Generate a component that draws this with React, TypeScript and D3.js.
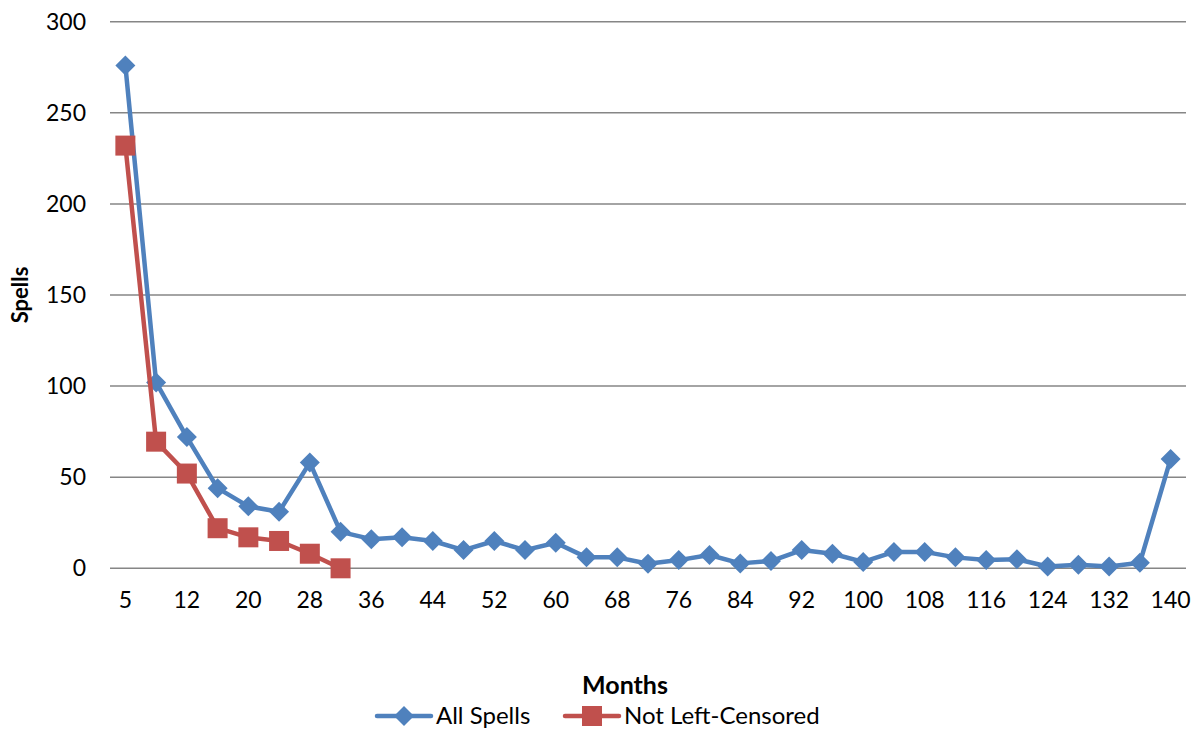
import React from "react";
import * as d3 from "d3";

const months: number[] = [5, 8, 12, 16, 20, 24, 28, 32, 36, 40, 44, 48, 52, 56, 60, 64, 68, 72, 76, 80, 84, 88, 92, 96, 100, 104, 108, 112, 116, 120, 124, 128, 132, 136, 140];
const allSpells: number[] = [276, 102, 72, 44, 34, 31, 58, 20, 16, 17, 15, 10, 15, 10, 14, 6, 6, 2.5, 4.5, 7.3, 2.7, 4, 10, 8, 3.5, 9, 9, 6, 4.5, 5, 1, 2, 1, 3, 60];
const notLeftCensored: (number | null)[] = [232, 69.5, 52, 22, 17, 15, 8, 0];
const yTicks: number[] = [0, 50, 100, 150, 200, 250, 300];

const BLUE = "#4F81BD";
const RED = "#C0504D";
const FONT = "Lato, 'Open Sans', sans-serif";

export default function App() {
  const W = 1201, H = 730;
  const left = 110, right = 1186, top = 21.7, bottom = 568.3;
  const x = d3.scalePoint<number>().domain(months).range([left, right]).padding(0.5);
  const y = d3.scaleLinear().domain([0, 300]).range([bottom, top]);

  const line = d3.line<[number, number]>().x(d => d[0]).y(d => d[1]);
  const bluePts: [number, number][] = allSpells.map((v, i) => [x(months[i])!, y(v)]);
  const redPts: [number, number][] = notLeftCensored
    .map((v, i) => (v == null ? null : ([x(months[i])!, y(v)] as [number, number])))
    .filter((p): p is [number, number] => p != null);

  const diamond = (cx: number, cy: number, r: number) =>
    `M${cx},${cy - r}L${cx + r},${cy}L${cx},${cy + r}L${cx - r},${cy}Z`;

  return (
    <svg width={W} height={H} style={{ position: "absolute", left: 0, top: 0, background: "#fff" }}>
      {yTicks.map(t => (
        <g key={t}>
          <line x1={left} x2={right} y1={y(t)} y2={y(t)} stroke="#868686" strokeWidth={1.5} />
          <text x={86} y={y(t)} dy="0.35em" textAnchor="end" fontFamily={FONT} fontSize={23} fill="#000">{t}</text>
        </g>
      ))}
      {months.map((m, i) =>
        i % 2 === 0 ? (
          <text key={m} x={x(m)} y={608} textAnchor="middle" fontFamily={FONT} fontSize={23} fill="#000">{m}</text>
        ) : null
      )}
      <path d={line(bluePts) || ""} fill="none" stroke={BLUE} strokeWidth={4.5} strokeLinejoin="round" />
      {bluePts.map((p, i) => (
        <path key={i} d={diamond(p[0], p[1], 10)} fill={BLUE} />
      ))}
      <path d={line(redPts) || ""} fill="none" stroke={RED} strokeWidth={4.5} strokeLinejoin="round" />
      {redPts.map((p, i) => (
        <rect key={i} x={p[0] - 10} y={p[1] - 10} width={20} height={20} fill={RED} />
      ))}
      <text transform={`translate(28,${(top + bottom) / 2}) rotate(-90)`} textAnchor="middle" fontFamily={FONT} fontSize={22} fontWeight="bold" fill="#000">Spells</text>
      <text x={625} y={694} textAnchor="middle" fontFamily={FONT} fontSize={25} fontWeight="bold" fill="#000">Months</text>
      <g>
        <line x1={377} x2={431} y1={716} y2={716} stroke={BLUE} strokeWidth={4.5} strokeLinecap="round" />
        <path d={diamond(404, 716, 10)} fill={BLUE} />
        <text x={436} y={716} dy="0.35em" fontFamily={FONT} fontSize={24} fill="#000">All Spells</text>
        <line x1={565} x2={619} y1={716} y2={716} stroke={RED} strokeWidth={4.5} strokeLinecap="round" />
        <rect x={582} y={706} width={20} height={20} fill={RED} />
        <text x={624} y={716} dy="0.35em" fontFamily={FONT} fontSize={24} fill="#000">Not Left-Censored</text>
      </g>
    </svg>
  );
}
